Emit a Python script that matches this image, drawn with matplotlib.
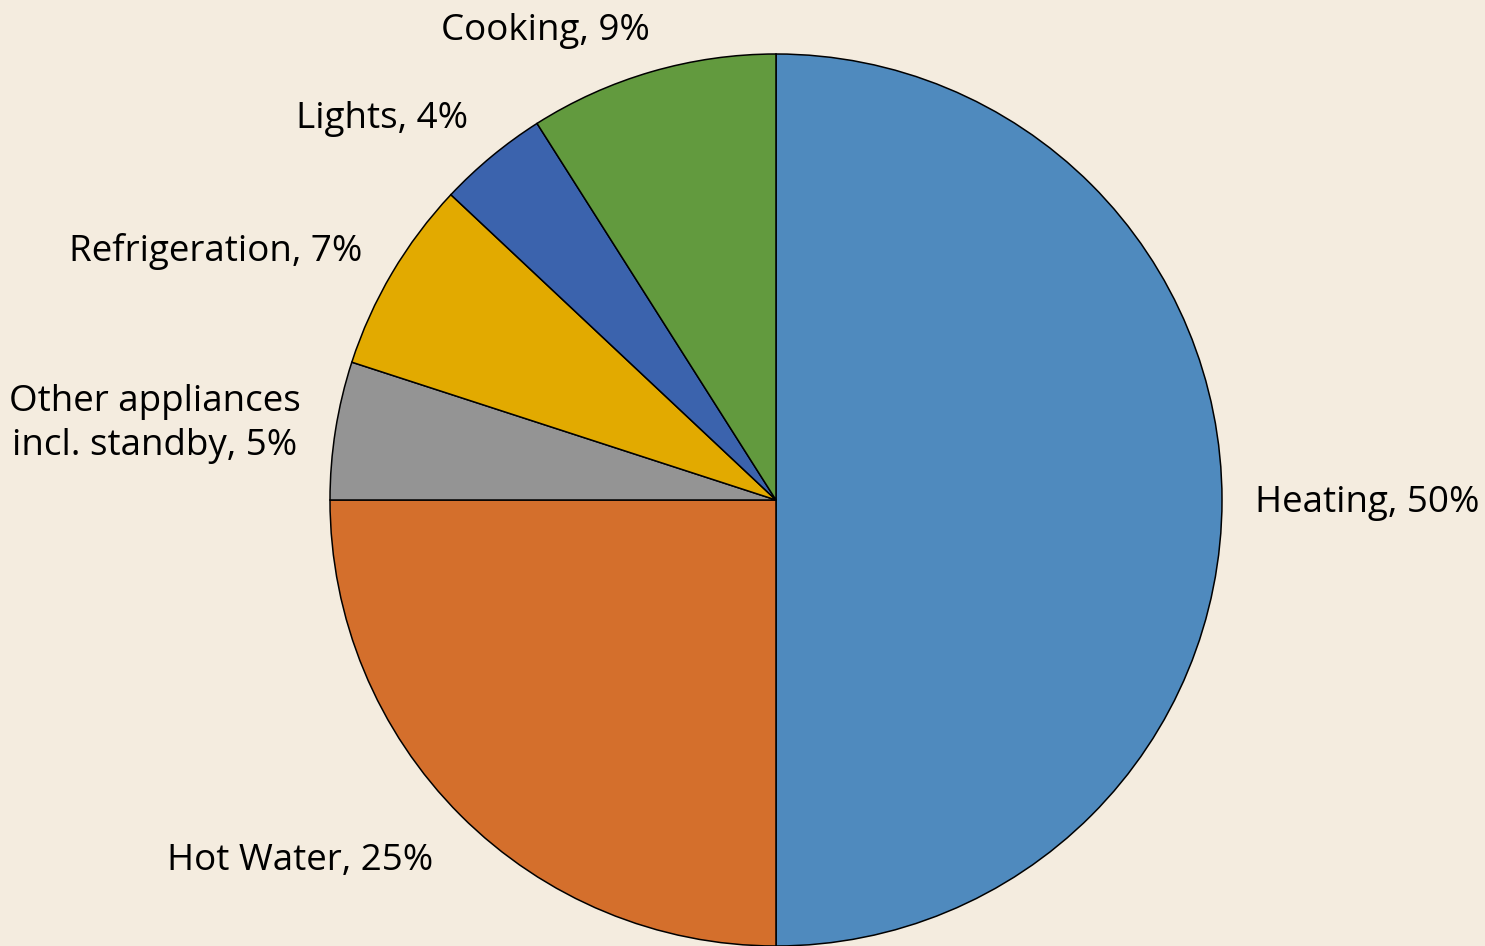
import matplotlib.pyplot as plt

# household energy use shares
labels = ["Heating", "Hot Water", "Other appliances\nincl. standby", "Refrigeration", "Lights", "Cooking"]
shares = [50, 25, 5, 7, 4, 9]
colors = ["#4F8ABE", "#D46F2C", "#949494", "#E2AA00", "#3B63AD", "#629A3E"]

bg = "#F4ECDF"

# label anchors in pixels (x of near edge, y of centre), from the reference
label_px = [(1255, 503), (433, 861), (301, 424), (362, 251), (468, 119), (650, 31)]

fig = plt.figure(figsize=(14.85, 9.46), dpi=100, facecolor=bg)
ax = fig.add_axes([0, 0, 1, 1])
ax.set_facecolor(bg)

texts = ["{}, {}%".format(l, s) for l, s in zip(labels, shares)]

wedges, txts = ax.pie(shares, labels=texts, colors=colors, startangle=90,
                      counterclock=False, labeldistance=1.08,
                      wedgeprops=dict(edgecolor="black", linewidth=1.1),
                      textprops=dict(fontsize=26.5, family=["Open Sans", "DejaVu Sans"], color="black"))

# pie centre at (776, 500) px, radius ~446 px
r = 446
cx, cy = 776, 500
for t, (px, py) in zip(txts, label_px):
    t.set_position(((px - cx) / r, (cy - py) / r))
    t.set_multialignment("center")
    t.set_linespacing(1.3)

ax.set_xlim(-cx / r, (1485 - cx) / r)
ax.set_ylim(-(946 - cy) / r, cy / r)
ax.set_aspect("auto")
ax.axis("off")

fig.savefig("out.png", dpi=100, facecolor=bg)
